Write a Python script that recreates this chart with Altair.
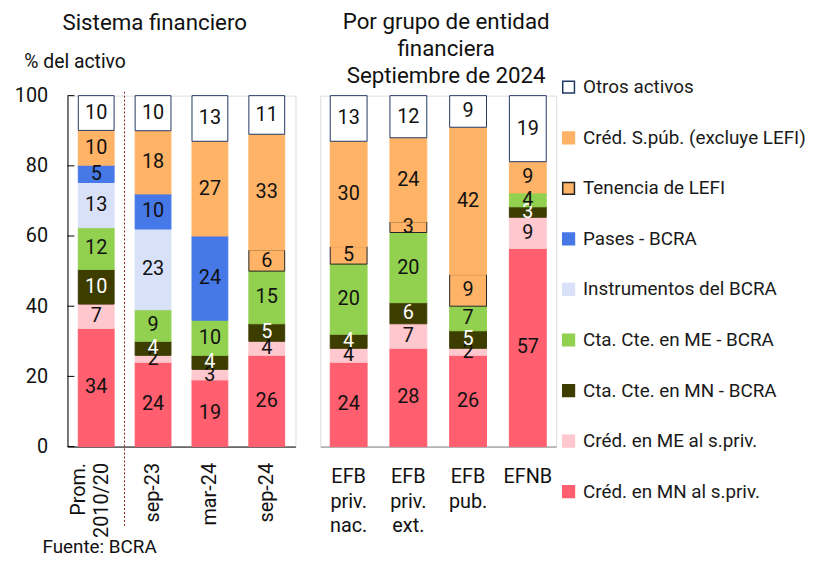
import altair as alt
import pandas as pd

# ---------------- data ----------------
grupos_sf = ["Prom.|2010/20", "sep-23", "mar-24", "sep-24"]
grupos_ef = ["EFB|priv.|nac.", "EFB|priv.|ext.", "EFB|pub.", "EFNB"]
grupos = grupos_sf + grupos_ef
paneles = ["sf"] * 4 + ["ef"] * 4

# stack order, bottom to top
series = [
    "Créd. en MN al s.priv.",
    "Créd. en ME al s.priv.",
    "Cta. Cte. en MN - BCRA",
    "Cta. Cte. en ME - BCRA",
    "Instrumentos del BCRA",
    "Pases - BCRA",
    "Tenencia de LEFI",
    "Créd. S.púb. (excluye LEFI)",
    "Otros activos",
]
cred_mn = [34, 24, 19, 26, 24, 28, 26, 57]
cred_me = [7, 2, 3, 4, 4, 7, 2, 9]
cta_mn = [10, 4, 4, 5, 4, 6, 5, 3]
cta_me = [12, 9, 10, 15, 20, 20, 7, 4]
instrumentos = [13, 23, 0, 0, 0, 0, 0, 0]
pases = [5, 10, 24, 0, 0, 0, 0, 0]
lefi = [0, 0, 0, 6, 5, 3, 9, 0]
cred_spub = [10, 18, 27, 33, 30, 24, 42, 9]
otros = [10, 10, 13, 11, 13, 12, 9, 19]
valores = [cred_mn, cred_me, cta_mn, cta_me, instrumentos, pases, lefi, cred_spub, otros]

fill_colors = ["#FF5F6E", "#FFC7CE", "#3D3D00", "#92D050", "#D9E1F9",
               "#4678E8", "#FFB366", "#FFB366", "#FFFFFF"]
stroke_colors = ["#FF5F6E", "#FFC7CE", "#3D3D00", "#92D050", "#D9E1F9",
                 "#4678E8", "#222222", "#FFB366", "#203864"]

ticks_y = [0, 0.2, 0.4, 0.6, 0.8, 1.0]

rows = []
for orden, (s, vals) in enumerate(zip(series, valores)):
    for g, p, v in zip(grupos, paneles, vals):
        if v > 0:
            rows.append(dict(grupo=g, panel=p, serie=s, valor=v, orden=orden))
df = pd.DataFrame(rows)

# legend order: top of stack first
leg_domain = series[::-1]
leg_fill = fill_colors[::-1]
leg_stroke = stroke_colors[::-1]

legend = alt.Legend(
    title=None, orient="none", legendX=496, legendY=-18,
    symbolType="square", symbolSize=140, symbolStrokeWidth=1.5,
    labelFontSize=19, labelColor="#1a1a1a", rowPadding=31, labelOffset=5,
    labelLimit=400, padding=0,
)

yscale = alt.Scale(domain=[0, 1], nice=False)


def panel(p, grupos_p, width, pin, pout, x_axis, y_axis, title, extra=()):
    base = (
        alt.Chart(df)
        .transform_filter(alt.datum.panel == p)
        .transform_stack(
            stack="valor", groupby=["grupo"], as_=["v0", "v1"],
            offset="normalize", sort=[alt.SortField("orden", order="ascending")],
        )
        .transform_calculate(mid="(datum.v0 + datum.v1) / 2")
    )
    x = alt.X("grupo:N", sort=grupos_p,
              scale=alt.Scale(paddingInner=pin, paddingOuter=pout), axis=x_axis)
    bars = base.mark_bar(strokeWidth=1).encode(
        x=x,
        y=alt.Y("v0:Q", scale=yscale, axis=y_axis),
        y2="v1:Q",
        color=alt.Color("serie:N", scale=alt.Scale(domain=leg_domain, range=leg_fill), legend=legend),
        stroke=alt.Stroke("serie:N", scale=alt.Scale(domain=leg_domain, range=leg_stroke), legend=legend),
    )
    text = base.mark_text(fontSize=20, baseline="middle").encode(
        x=x,
        y=alt.Y("mid:Q", scale=yscale),
        text="valor:Q",
        color=alt.condition(alt.datum.serie == "Cta. Cte. en MN - BCRA",
                            alt.value("white"), alt.value("#111111")),
    )
    return alt.layer(bars, text, *extra).properties(width=width, height=354, title=title)


left_x_axis = alt.Axis(
    title=None, labelAngle=270, labelExpr="split(datum.label, '|')",
    labelFontSize=20, labelLineHeight=23, ticks=False,
    domainColor="black", labelPadding=16, labelColor="#111111",
    labelOffset={"condition": {"test": "datum.value == 'Prom.|2010/20'", "value": -17}, "value": 0},
)
left_y_axis = alt.Axis(values=ticks_y, labelExpr="round(datum.value * 100)",
                       title="% del activo", titleAngle=0, titleX=-44, titleY=-28,
                       titleAlign="left", titleBaseline="alphabetic", titleFontSize=19.5,
                       titleFontWeight="normal", titleColor="#111111",
                       ticks=False, grid=False, domainColor="black",
                       labelFontSize=20, labelPadding=20, labelColor="#111111")

tick_rules = alt.Chart(pd.DataFrame({"t": ticks_y})).mark_rule(color="black").encode(
    y=alt.Y("t:Q", scale=yscale), x=alt.value(0), x2=alt.value(7)
)
divider = alt.Chart(pd.DataFrame({"a": [0]})).mark_rule(
    color="#8B1A1A", strokeDash=[2, 2], strokeWidth=1
).encode(x=alt.value(57.5), y=alt.value(-4), y2=alt.value(434))

title_left = alt.TitleParams("Sistema financiero", fontSize=22.5,
                             fontWeight="normal", anchor="middle", offset=18, dx=-27,
                             color="#111111")
title_right = alt.TitleParams(["Por grupo de entidad", "financiera", "Septiembre de 2024"],
                              fontSize=22.5, lineHeight=27, fontWeight="normal",
                              anchor="middle", offset=8, dx=8, color="#111111")

left = panel("sf", grupos_sf, 230, 0.37, 0.19, left_x_axis, left_y_axis, title_left,
             extra=(tick_rules, divider))

right_x_axis = alt.Axis(title=None, labelAngle=0, labelExpr="split(datum.label, '|')",
                        labelFontSize=20, labelLineHeight=25, ticks=False,
                        domainColor="#888888", labelPadding=20, labelColor="#111111")
right = panel("ef", grupos_ef, 238, 0.383, 0.167, right_x_axis, None, title_right)

chart = (
    alt.hconcat(left, right, spacing=23)
    .resolve_scale(x="independent")
    .properties(
        title=alt.TitleParams("Fuente: BCRA", orient="bottom", anchor="start",
                              fontSize=19, fontWeight="normal", dx=29, offset=0,
                              color="#111111"),
        padding={"left": 5, "top": 0, "right": 0, "bottom": 0},
    )
    .configure_view(stroke=None)
    .configure(font="Roboto")
)

chart.save("out.html", embed_options={"renderer": "svg", "actions": False})
